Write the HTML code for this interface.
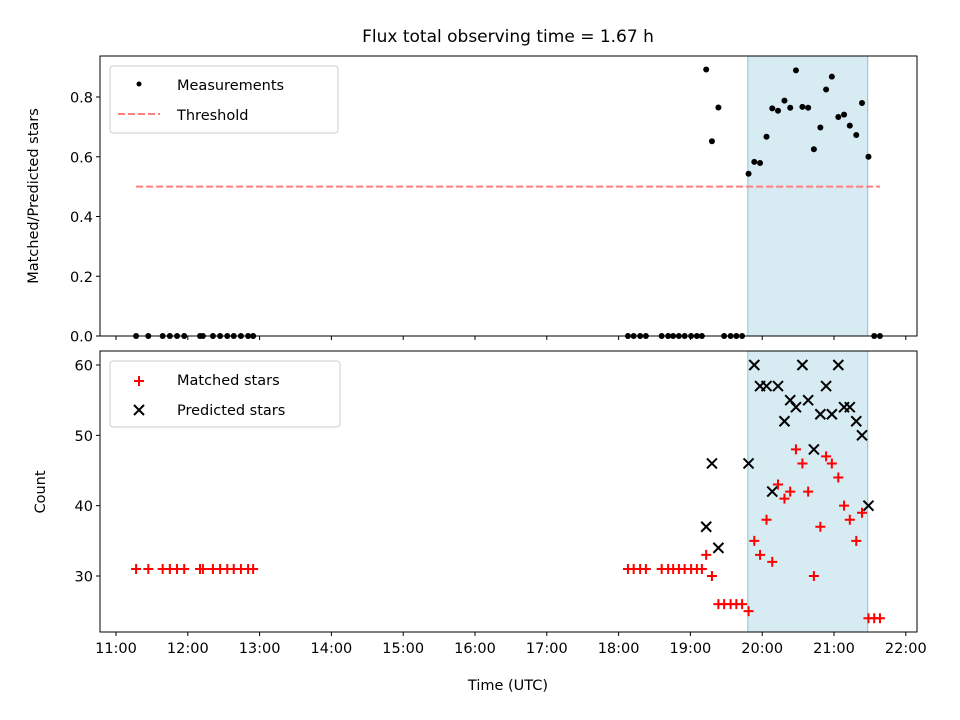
<!DOCTYPE html>
<html><head><meta charset="utf-8"><style>
html,body{margin:0;padding:0;background:#fff;overflow:hidden;width:960px;height:720px;}
svg{display:block;font-family:"DejaVu Sans","Liberation Sans",sans-serif;}
</style></head><body>
<svg id="chart" width="960" height="720" xmlns="http://www.w3.org/2000/svg">
<text x="508" y="42" text-anchor="middle" font-size="17">Flux total observing time = 1.67 h</text>
<g id="topPanel"></g>
<g id="botPanel"></g>
</svg>
<script>
const times=[11.28,11.45,11.65,11.75,11.85,11.95,12.17,12.21,12.35,12.45,12.55,12.64,12.74,12.84,12.91,
18.13,18.21,18.30,18.38,18.60,18.69,18.76,18.84,18.92,19.01,19.09,19.16,19.22,19.30,19.39,19.47,19.56,19.64,19.72,
19.81,19.89,19.97,20.06,20.14,20.22,20.31,20.39,20.47,20.56,20.64,20.72,20.81,20.89,20.97,21.06,21.14,21.22,21.31,21.39,21.48,21.56,21.64];
const matched=[31,31,31,31,31,31,31,31,31,31,31,31,31,31,31,
31,31,31,31,31,31,31,31,31,31,31,31,33,30,26,26,26,26,26,
25,35,33,38,32,43,41,42,48,46,42,30,37,47,46,44,40,38,35,39,24,24,24];
const predicted=[0,0,0,0,0,0,0,0,0,0,0,0,0,0,0,
0,0,0,0,0,0,0,0,0,0,0,0,37,46,34,0,0,0,0,
46,60,57,57,42,57,52,55,54,60,55,48,53,57,53,60,54,54,52,50,40,0,0];
const ratio=[0,0,0,0,0,0,0,0,0,0,0,0,0,0,0,
0,0,0,0,0,0,0,0,0,0,0,0,0.892,0.652,0.765,0,0,0,0,
0.543,0.583,0.579,0.667,0.762,0.754,0.788,0.764,0.889,0.767,0.764,0.625,0.698,0.825,0.868,0.733,0.741,0.704,0.673,0.78,0.6,0,0];
const spanStart=19.80, spanEnd=21.47;
const threshold=0.5, thrStart=11.28, thrEnd=21.64;
const xTicks=[11,12,13,14,15,16,17,18,19,20,21,22];
const topTicks=[0,0.2,0.4,0.6,0.8];
const botTicks=[30,40,50,60];

const NS="http://www.w3.org/2000/svg";
const L=100,R=917;
const FS=14.5;
const xs=h=>116+(h-11)*71.8;
const yTop=v=>336-v*298.75;
const yBot=v=>365+(60-v)*7.033;
function mk(p,tag,a,txt){const e=document.createElementNS(NS,tag);for(const k in a)e.setAttribute(k,a[k]);if(txt!==undefined)e.textContent=txt;p.appendChild(e);return e;}
const gTop=document.getElementById('topPanel'), gBot=document.getElementById('botPanel');

function panel(g,y0,y1,yf,ticks,fmt,name){
  let r=mk(g,'rect',{x:xs(spanStart),y:y0,width:xs(spanEnd)-xs(spanStart),height:y1-y0,fill:'#add8e6','fill-opacity':0.5,stroke:'#8fc3d3','stroke-width':1});
  
  
  xTicks.forEach(t=>{let l=mk(g,'line',{x1:xs(t),x2:xs(t),y1:y1,y2:y1+4,stroke:'#000'});
    
    
    if(name==='bot'){let tx=mk(g,'text',{x:xs(t),y:y1+21,'text-anchor':'middle','font-size':FS},t+':00');
      
      }
  });
  ticks.forEach(t=>{let yy=yf(t);mk(g,'line',{x1:L-4,x2:L,y1:yy,y2:yy,stroke:'#000'});
    let tx=mk(g,'text',{x:L-7,y:yy+5.5,'text-anchor':'end','font-size':FS},fmt(t));
    
    });
}
panel(gTop,56,336,yTop,topTicks,t=>t.toFixed(1),'top');
panel(gBot,351,632,yBot,botTicks,t=>String(t),'bot');

let th=mk(gTop,'line',{x1:xs(thrStart),x2:xs(thrEnd),y1:yTop(threshold),y2:yTop(threshold),stroke:'#ff7f7f','stroke-width':2,'stroke-dasharray':'7,3'});



times.forEach((t,i)=>{
  let c=mk(gTop,'circle',{cx:xs(t),cy:yTop(ratio[i]),r:3,fill:'#000'});
  
  
});
const cp=mk(gBot,'clipPath',{id:'bc'});
mk(cp,'rect',{x:L,y:351,width:R-L,height:281});
const bm=mk(gBot,'g',{'clip-path':'url(#bc)'});
times.forEach((t,i)=>{
  const x=xs(t),y=yBot(matched[i]);
  let p=mk(bm,'path',{d:`M${x-5},${y}H${x+5}M${x},${y-5}V${y+5}`,stroke:'#f00','stroke-width':2});
  
  
  const y2=yBot(predicted[i]);
  let q=mk(bm,'path',{d:`M${x-5},${y2-5}L${x+5},${y2+5}M${x-5},${y2+5}L${x+5},${y2-5}`,stroke:'#000','stroke-width':2});
  
  
});
mk(gTop,'rect',{x:L,y:56,width:R-L,height:280,fill:'none',stroke:'#000','stroke-width':1});
mk(gBot,'rect',{x:L,y:351,width:R-L,height:281,fill:'none',stroke:'#000','stroke-width':1});

let yl1=mk(gTop,'text',{x:0,y:0,'font-size':FS,'text-anchor':'middle',transform:'translate(38,196) rotate(-90)'},'Matched/Predicted stars');


let yl2=mk(gBot,'text',{x:0,y:0,'font-size':FS,'text-anchor':'middle',transform:'translate(45,492) rotate(-90)'},'Count');


let xl=mk(gBot,'text',{x:508,y:690,'font-size':FS,'text-anchor':'middle'},'Time (UTC)');



let lg1=mk(gTop,'g',{});


mk(lg1,'rect',{x:110,y:66,width:228,height:67,rx:3,fill:'#fff','fill-opacity':0.8,stroke:'#ccc'});
mk(lg1,'circle',{cx:139,cy:84,r:2.5,fill:'#000'});
mk(lg1,'text',{x:177,y:90,'font-size':FS},'Measurements');
mk(lg1,'line',{x1:118,x2:160,y1:114,y2:114,stroke:'#ff7f7f','stroke-width':2,'stroke-dasharray':'7,3'});
mk(lg1,'text',{x:177,y:120,'font-size':FS},'Threshold');
let lg2=mk(gBot,'g',{});


mk(lg2,'rect',{x:110,y:361,width:230,height:66,rx:3,fill:'#fff','fill-opacity':0.8,stroke:'#ccc'});
mk(lg2,'path',{d:'M134,381H144M139,376V386',stroke:'#f00','stroke-width':2});
mk(lg2,'text',{x:177,y:385,'font-size':FS},'Matched stars');
mk(lg2,'path',{d:'M134,405L144,415M134,415L144,405',stroke:'#000','stroke-width':2});
mk(lg2,'text',{x:177,y:415,'font-size':FS},'Predicted stars');
</script>
</body></html>
